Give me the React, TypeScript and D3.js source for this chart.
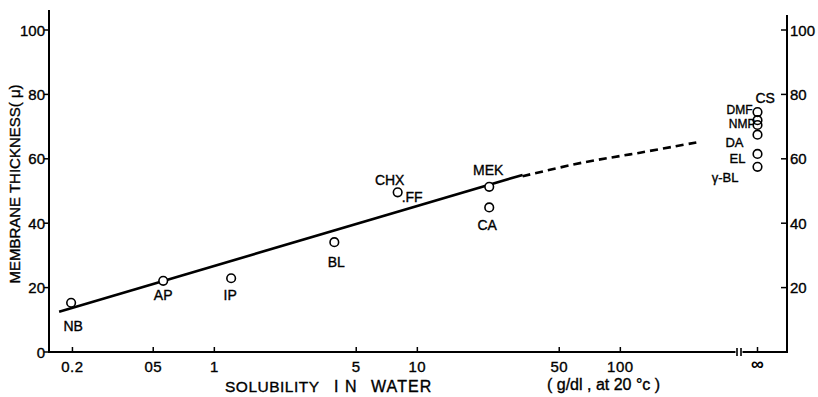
import React from "react";
import * as d3 from "d3";

// Solvents with finite solubility in water (g/dl at 20 °C) and membrane thickness (μ)
const solventNames = ["NB", "AP", "IP", "BL", "CHX", ".FF", "MEK", "CA"];
const solubility = [0.197, 0.56, 1.21, 3.9, 8.0, 8.0, 22.6, 22.6];
const thickness = [15.3, 22.1, 22.9, 34.1, 49.6, 49.6, 51.3, 44.9];

// Fully miscible solvents, plotted at infinity
const miscibleNames = ["CS", "DMF", "NMP", "DA", "EL", "γ-BL"];
const miscibleThickness = [74.5, 72, 70.5, 67.5, 61.5, 57.5];

// Fitted trend (solid) and its extrapolation (dashed)
const fitSolubility = [0.172, 33];
const fitThickness = [12.5, 55];
const extSolubility = [33, 65, 125, 238];
const extThickness = [54.6, 58.8, 61.9, 65.1];

const xTicks = [0.2, 0.5, 1, 5, 10, 50, 100];
const xTickLabels = ["0.2", "05", "1", "5", "10", "50", "100"];
const yTicksLeft = [0, 20, 40, 60, 80, 100];
const yTicksRight = [20, 40, 60, 80, 100];

// label placement relative to each marker: [dx, dy, anchor, fontSize]
const labelPlace: Record<string, [number, number, string, number]> = {
  NB: [2, 28, "middle", 14],
  AP: [0, 19.5, "middle", 14],
  IP: [-1, 22, "middle", 14],
  BL: [2, 25, "middle", 14],
  CHX: [-8, -7, "middle", 14],
  ".FF": [4, 9.5, "start", 14],
  MEK: [-1, -11.5, "middle", 14],
  CA: [-2, 23, "middle", 14],
  CS: [-2, -9, "start", 14],
  DMF: [-5, -6, "end", 12],
  NMP: [-2, 3.5, "end", 12],
  DA: [-14, 12.5, "end", 13],
  EL: [-12, 9, "end", 13],
  "γ-BL": [-19, 15, "end", 13],
};

const W = 818;
const H = 397;
const left = 49;
const right = 787;
const bottom = 352;
const infX = 757.5;

export default function App() {
  const x = d3.scaleLog().domain([0.1533, 300]).range([left, 717.2]);
  const y = d3.scaleLinear().domain([0, 100]).range([bottom, 30]);

  const line = d3
    .line<[number, number]>()
    .x((d) => x(d[0]))
    .y((d) => y(d[1]));
  const curve = d3
    .line<[number, number]>()
    .x((d) => x(d[0]))
    .y((d) => y(d[1]))
    .curve(d3.curveCatmullRom);

  const fitPts = fitSolubility.map((s, i) => [s, fitThickness[i]] as [number, number]);
  const extPts = extSolubility.map((s, i) => [s, extThickness[i]] as [number, number]);

  const font = "'Liberation Sans', Arial, sans-serif";
  const ink = { fill: "#000", stroke: "#000", strokeWidth: 0.35 };

  return (
    <svg
      width={W}
      height={H}
      style={{ position: "absolute", left: 0, top: 0, background: "#fff" }}
      fontFamily={font}
    >
      {/* axes frame */}
      <line x1={left} y1={10} x2={left} y2={bottom + 1} stroke="#000" strokeWidth={2} />
      <line x1={right} y1={15} x2={right} y2={bottom + 1} stroke="#000" strokeWidth={2} />
      <line x1={left} y1={bottom} x2={right} y2={bottom} stroke="#000" strokeWidth={2} />

      {/* axis break before infinity */}
      <rect x={735.5} y={347} width={7} height={10} fill="#fff" />
      <line x1={737} y1={348} x2={737} y2={356} stroke="#000" strokeWidth={1.6} />
      <line x1={741} y1={348} x2={741} y2={356} stroke="#000" strokeWidth={1.6} />

      {/* left y ticks */}
      {yTicksLeft.map((t) => (
        <g key={"l" + t}>
          <line x1={left - 5} x2={left} y1={y(t)} y2={y(t)} stroke="#000" strokeWidth={1.5} />
          <text x={left - 4} y={y(t) + 5.5} fontSize={15} textAnchor="end" {...ink}>
            {t}
          </text>
        </g>
      ))}

      {/* right y ticks */}
      {yTicksRight.map((t) => (
        <g key={"r" + t}>
          <line x1={right - 6} x2={right} y1={y(t)} y2={y(t)} stroke="#000" strokeWidth={1.5} />
          <text x={right + 3} y={y(t) + 5.5} fontSize={15} textAnchor="start" {...ink}>
            {t}
          </text>
        </g>
      ))}

      {/* x ticks */}
      {xTicks.map((t, i) => (
        <g key={"x" + t}>
          <line x1={x(t)} x2={x(t)} y1={bottom - 5} y2={bottom} stroke="#000" strokeWidth={1.5} />
          <text x={x(t)} y={372} fontSize={15} textAnchor="middle" letterSpacing={0.5} {...ink}>
            {xTickLabels[i]}
          </text>
        </g>
      ))}
      <line x1={infX} x2={infX} y1={bottom - 5} y2={bottom} stroke="#000" strokeWidth={1.5} />
      <text x={infX} y={370} fontSize={18} textAnchor="middle" fontWeight="bold">
        ∞
      </text>

      {/* axis titles */}
      <text x={225} y={392} fontSize={15.5} letterSpacing={0.5} {...ink}>SOLUBILITY</text>
      <text x={334} y={392} fontSize={16} letterSpacing={1.1} {...ink}>I N</text>
      <text x={371} y={392} fontSize={16} letterSpacing={1.1} {...ink}>WATER</text>
      <text x={547} y={390} fontSize={16} xmlSpace="preserve" {...ink}>
        ( g/dl , at 20 °c )
      </text>
      <text
        transform="translate(20,184) rotate(-90)"
        fontSize={15}
        textAnchor="middle"
        {...ink}
      >
        MEMBRANE  THICKNESS( μ)
      </text>

      {/* trend lines */}
      <path d={line(fitPts) ?? ""} fill="none" stroke="#000" strokeWidth={2.6} />
      <path
        d={curve(extPts) ?? ""}
        fill="none"
        stroke="#000"
        strokeWidth={2.6}
        strokeDasharray="8,5"
      />

      {/* finite-solubility solvents */}
      {solventNames.map((n, i) => {
        const cx = x(solubility[i]);
        const cy = y(thickness[i]);
        const [dx, dy, anchor, fs] = labelPlace[n];
        return (
          <g key={n}>
            {n !== ".FF" && (
              <circle cx={cx} cy={cy} r={4.3} fill="#fff" stroke="#000" strokeWidth={1.6} />
            )}
            <text x={cx + dx} y={cy + dy} fontSize={fs} textAnchor={anchor} {...ink}>
              {n}
            </text>
          </g>
        );
      })}

      {/* miscible solvents at infinity */}
      {miscibleNames.map((n, i) => {
        const cy = y(miscibleThickness[i]);
        const [dx, dy, anchor, fs] = labelPlace[n];
        return (
          <g key={n}>
            <circle cx={infX} cy={cy} r={4.3} fill="none" stroke="#000" strokeWidth={1.6} />
            <text x={infX + dx} y={cy + dy} fontSize={fs} textAnchor={anchor} {...ink}>
              {n}
            </text>
          </g>
        );
      })}
    </svg>
  );
}
